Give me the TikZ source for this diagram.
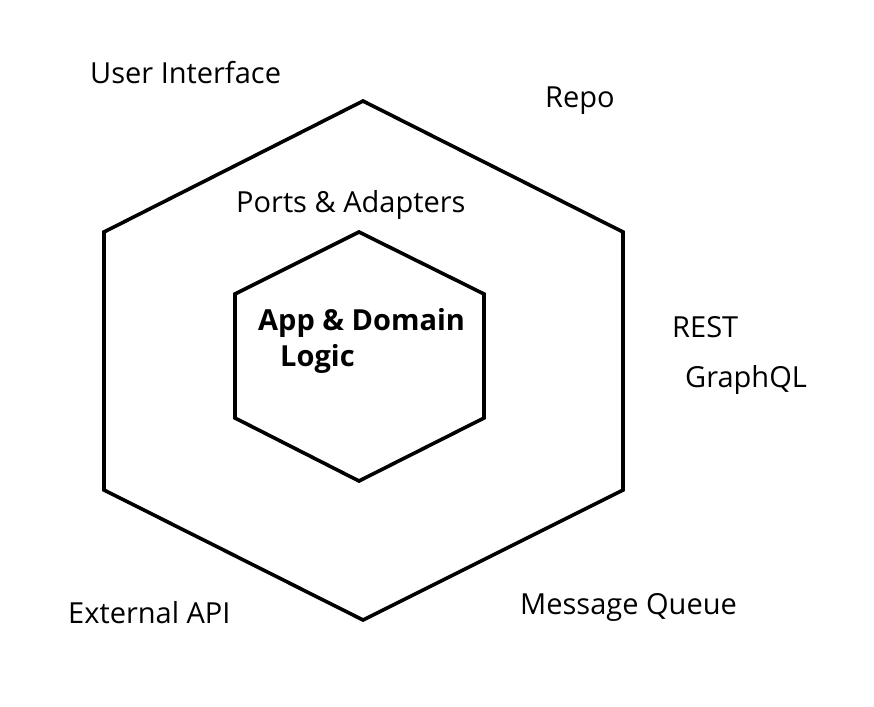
\documentclass[tikz,border=0pt]{standalone}
\usepackage{fontspec}
\setmainfont{Open Sans}
\begin{document}
\begin{tikzpicture}[x=1pt,y=-1pt,
  hexline/.style={draw=black,line width=3.6pt,line join=miter},
  lbl/.style={font=\fontsize{29}{34}\selectfont,inner sep=0pt,anchor=west},
  core/.style={font=\fontsize{29}{34}\selectfont\bfseries,inner sep=0pt,anchor=west}]
\useasboundingbox (0,0) rectangle (874,706);
% outer hexagon: ports and adapters layer
\coordinate (o1) at (363,101);
\coordinate (o2) at (623,232);
\coordinate (o3) at (623,490);
\coordinate (o4) at (363,620);
\coordinate (o5) at (104,490);
\coordinate (o6) at (104,232);
\draw[hexline] (o1) -- (o2) -- (o3) -- (o4) -- (o5) -- (o6) -- cycle;
% inner hexagon: application core
\coordinate (i1) at (359,232);
\coordinate (i2) at (484,294);
\coordinate (i3) at (484,418);
\coordinate (i4) at (359,481);
\coordinate (i5) at (235,418);
\coordinate (i6) at (235,294);
\draw[hexline] (i1) -- (i2) -- (i3) -- (i4) -- (i5) -- (i6) -- cycle;
% labels
\node[lbl] (ui) at (90,73) {User Interface};
\node[lbl] (repo) at (545,101) {Repo};
\node[lbl] (pa) at (236,205) {Ports \& Adapters};
\node[core] (app) at (258,323) {App \& Domain};
\node[core] (logic) at (280,359) {Logic};
\node[lbl] (rest) at (672,327) {REST};
\node[lbl] (gql) at (685,380) {GraphQL};
\node[lbl] (ext) at (68,613) {External API};
\node[lbl] (mq) at (520,607) {Message Queue};
\end{tikzpicture}
\end{document}
